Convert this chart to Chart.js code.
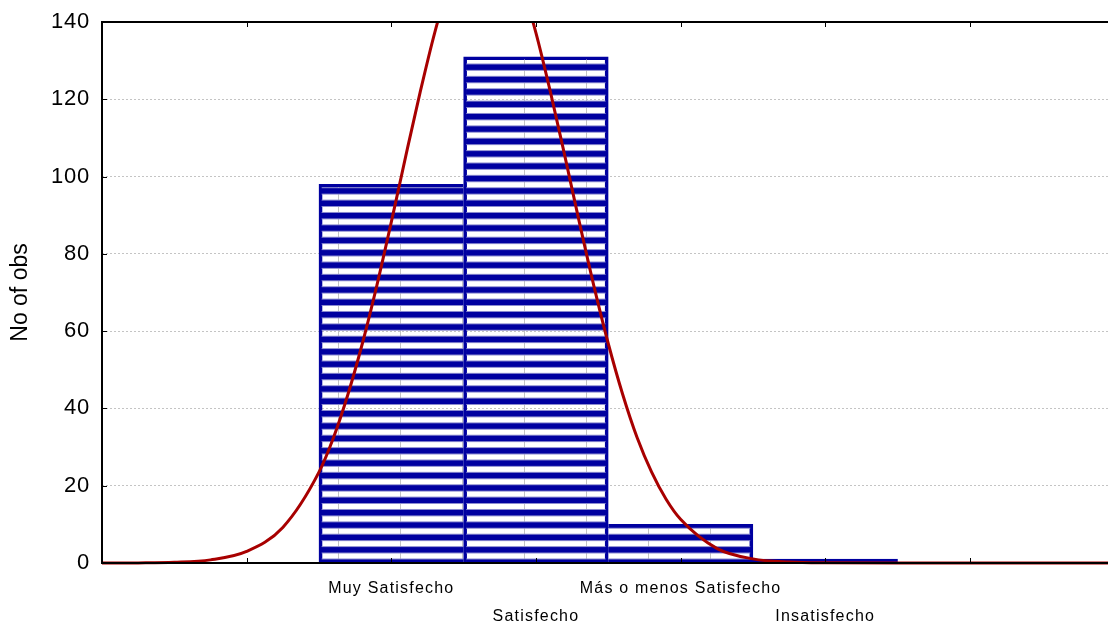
<!DOCTYPE html>
<html><head><meta charset="utf-8">
<script src="https://cdn.jsdelivr.net/npm/chart.js@4"></script>
<style>html,body{margin:0;padding:0;background:#fff}</style>
</head><body>
<canvas id="c" width="1108" height="623"></canvas>
<script>
// ---- data ----
const categories = ['Muy Satisfecho', 'Satisfecho', 'Más o menos Satisfecho', 'Insatisfecho'];
const categoryPositions = [1, 2, 3, 4];
const counts = [98, 131, 10, 1];
const yTicks = [0, 20, 40, 60, 80, 100, 120, 140];
const xTickPositions = [0, 1, 2, 3, 4, 5];
// fitted normal curve
const curveX = [-1, -0.75, -0.5, -0.25, 0, 0.25, 0.5, 0.6, 0.7, 0.8, 0.9, 1.0, 1.1, 1.2, 1.3, 1.4, 1.5, 1.6, 1.7, 1.8, 1.9, 2.0, 2.1, 2.2, 2.3, 2.4, 2.5, 2.6, 2.7, 2.8, 2.9, 3.0, 3.25, 3.5, 3.75, 4.0, 4.5, 5.0, 5.5, 6.0];
const curveY = [0, 0.03, 0.18, 0.81, 3.0, 9.2, 23.5, 32.4, 43.6, 56.8, 71.8, 88.2, 105.3, 121.9, 137.2, 149.9, 159.0, 163.7, 163.7, 159.0, 149.9, 137.2, 121.9, 105.3, 88.2, 71.8, 56.8, 43.6, 32.4, 23.5, 16.5, 11.3, 3.8, 1.07, 0.25, 0.05, 0, 0, 0, 0];

const BLUE = '#0000A0';
const RED = '#A80000';
const FONT = 'Arial, "Liberation Sans", sans-serif';

// stripe pattern for the bars
function makePattern() {
  const pc = document.createElement('canvas');
  pc.width = 62; pc.height = 99;
  const p = pc.getContext('2d');
  p.strokeStyle = '#c4c4c4'; p.lineWidth = 1;
  p.beginPath(); p.moveTo(28.5, 0); p.lineTo(28.5, 99); p.stroke();
  for (let k = 0; k < 8; k++) {
    const y0 = 2.6 + k * 12.375;
    p.fillStyle = '#8c8cd0';
    p.fillRect(0, y0 - 1, 62, 7.4);
    p.fillStyle = BLUE;
    p.fillRect(0, y0, 62, 5.4);
  }
  return document.getElementById('c').getContext('2d').createPattern(pc, 'repeat');
}

function spaced(scale, spacing) {
  if (scale._spacedPatch) return;
  const orig = scale.drawLabels.bind(scale);
  scale.drawLabels = function (area) {
    const ctx = this.ctx;
    ctx.save();
    ctx.letterSpacing = spacing;
    orig(area);
    ctx.restore();
  };
  scale._spacedPatch = true;
}

const framePlugin = {
  id: 'frame',
  beforeDraw(chart) {
    spaced(chart.scales.x, '1.2px');
    spaced(chart.scales.y, '0.8px');
  },
  afterDatasetsDraw(chart) {
    const {ctx, chartArea: {left, right, top, bottom}, scales: {x, y}} = chart;
    ctx.save();
    ctx.strokeStyle = '#000';
    ctx.lineWidth = 1;
    ctx.beginPath();
    xTickPositions.forEach(v => {
      const px = Math.round(x.getPixelForValue(v)) + 0.5;
      ctx.moveTo(px, bottom); ctx.lineTo(px, bottom - 5);
      ctx.moveTo(px, top); ctx.lineTo(px, top + 5);
    });
    yTicks.forEach(v => {
      const py = Math.round(y.getPixelForValue(v)) + 0.5;
      ctx.moveTo(left, py); ctx.lineTo(left + 5, py);
    });
    ctx.stroke();
    ctx.lineWidth = 2;
    ctx.beginPath();
    ctx.moveTo(right + 2, top); ctx.lineTo(left, top); ctx.lineTo(left, bottom); ctx.lineTo(right + 2, bottom);
    ctx.stroke();
    ctx.restore();
  }
};

const pattern = makePattern();

new Chart(document.getElementById('c'), {
  type: 'bar',
  data: {
    datasets: [
      {
        type: 'line',
        data: curveX.map((v, i) => ({x: v, y: curveY[i]})),
        borderColor: RED,
        borderWidth: 3,
        pointRadius: 0,
        cubicInterpolationMode: 'monotone',
        clip: {left: 0, top: 0, right: 0, bottom: 5},
        order: 0
      },
      {
        type: 'bar',
        data: categoryPositions.map((p, i) => ({x: p, y: counts[i]})),
        backgroundColor: pattern,
        borderColor: BLUE,
        borderSkipped: false,
        borderWidth: (c) => {
          const i = c.dataIndex;
          const prev = i > 0 ? counts[i - 1] : -1;
          const next = i < counts.length - 1 ? counts[i + 1] : -1;
          return {top: 3, bottom: 0, left: prev < counts[i] ? 3 : 0, right: next <= counts[i] ? 3 : 0};
        },
        barPercentage: 1,
        categoryPercentage: 1,
        order: 1
      }
    ]
  },
  options: {
    responsive: false,
    animation: false,
    devicePixelRatio: 1,
    layout: {padding: {top: 22, right: 0, left: 0, bottom: 0}},
    plugins: {legend: {display: false}, tooltip: {enabled: false}},
    scales: {
      x: {
        type: 'linear',
        min: -1,
        max: 5.955,
        offset: false,
        grid: {display: false, offset: false},
        border: {display: false},
        afterBuildTicks(scale) { scale.ticks = xTickPositions.map(v => ({value: v})); },
        afterFit(scale) { scale.height = 60; scale.paddingLeft = 0; scale.paddingRight = 0; },
        ticks: {
          autoSkip: false,
          maxRotation: 0,
          minRotation: 0,
          padding: 4,
          color: '#000',
          font: {family: FONT, size: 16, lineHeight: '28px'},
          callback(value) {
            const i = categoryPositions.indexOf(value);
            if (i < 0) return '';
            return i % 2 === 1 ? ['', categories[i]] : [categories[i]];
          }
        }
      },
      y: {
        min: 0,
        max: 140,
        afterBuildTicks(scale) { scale.ticks = yTicks.map(v => ({value: v})); },
        afterFit(scale) { scale.width = 102; scale.paddingTop = 0; scale.paddingBottom = 0; },
        grid: {color: '#c4c4c4', lineWidth: 1, drawTicks: false},
        border: {display: false, dash: [2, 2]},
        ticks: {padding: 12, color: '#000', font: {family: FONT, size: 22}},
        title: {display: true, text: 'No of obs', color: '#000', font: {family: FONT, size: 23}, padding: {top: 7, bottom: 0}}
      }
    }
  },
  plugins: [framePlugin]
});
</script>
</body></html>
